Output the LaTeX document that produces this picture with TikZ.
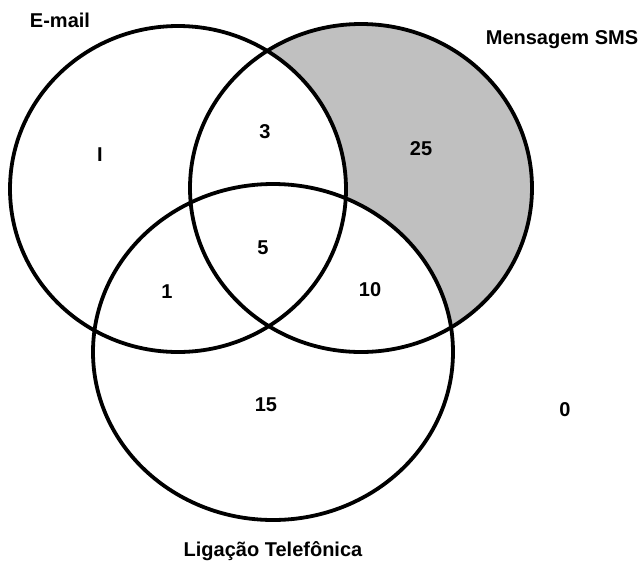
\documentclass[tikz,border=0pt]{standalone}
\usepackage{fontspec}
\setmainfont{Liberation Sans}
\definecolor{smsgray}{RGB}{192,192,192}
\begin{document}
\begin{tikzpicture}[x=1pt,y=-1pt,line width=3.8pt,
    setname/.style={font=\fontsize{20}{22}\selectfont\bfseries},
    count/.style={font=\fontsize{20}{22}\selectfont\bfseries}]
  \useasboundingbox (0,0) rectangle (643,566);
  \fill[smsgray] (361,188) ellipse [x radius=171,y radius=164];
  \fill[white] (178,189) ellipse [x radius=168,y radius=163];
  \fill[white] (273,352) ellipse [x radius=180,y radius=168];
  \draw (178,189) ellipse [x radius=168,y radius=163];
  \draw (361,188) ellipse [x radius=171,y radius=164];
  \draw (273,352) ellipse [x radius=180,y radius=168];
  \node[setname] (email) at (60,20) {E-mail};
  \node[setname] (sms) at (562,40) {Mensagem SMS};
  \node[setname] (fone) at (273,551) {Ligação Telefônica};
  \node[count] (e) at (100,155) {I};
  \node[count] (es) at (265,132) {3};
  \node[count] (s) at (421,149) {25};
  \node[count] (esf) at (263,248) {5};
  \node[count] (ef) at (167,292) {1};
  \node[count] (sf) at (370,290) {10};
  \node[count] (f) at (266,405) {15};
  \node[count] (none) at (565,410) {0};
\end{tikzpicture}
\end{document}
